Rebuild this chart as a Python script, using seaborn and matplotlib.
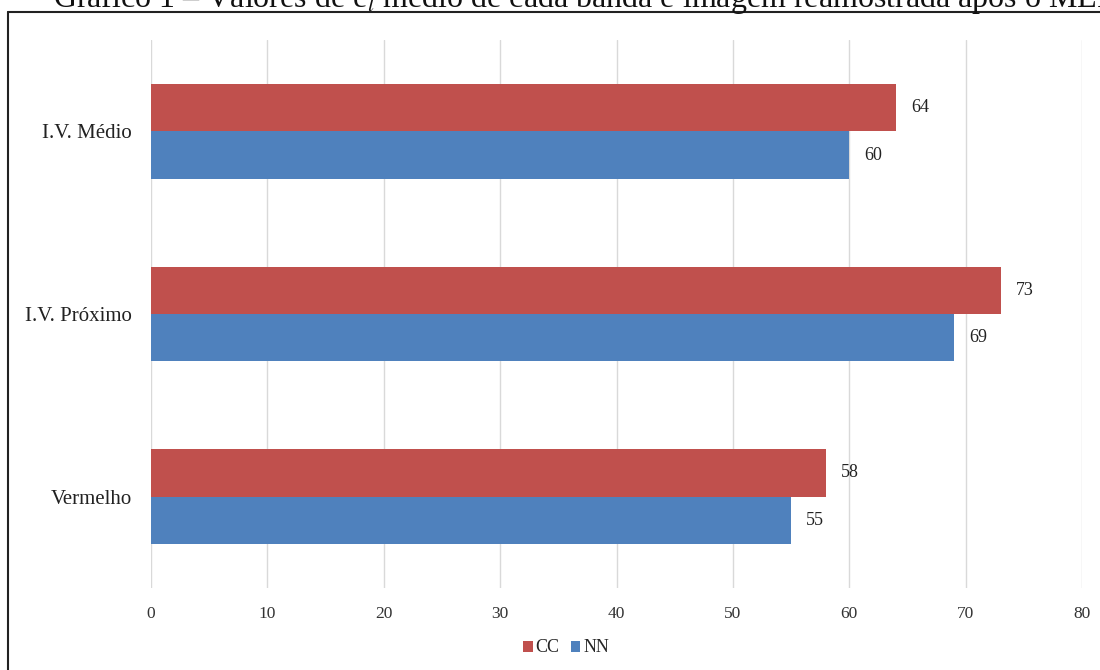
import matplotlib
matplotlib.use("Agg")
import matplotlib.pyplot as plt
from matplotlib.lines import Line2D
from matplotlib.patches import Patch
import seaborn as sns
import pandas as pd

categories = ["I.V. Médio", "I.V. Próximo", "Vermelho"]
series_names = ["CC", "NN"]
cc_values = [64, 73, 58]
nn_values = [60, 69, 55]
x_ticks = [0, 10, 20, 30, 40, 50, 60, 70, 80]
title_text = "Gráfico 1 – Valores de e$_l$ médio de cada banda e imagem reamostrada após o MEI"

colors = {"CC": "#C0504D", "NN": "#4F81BD"}

df = pd.DataFrame({
    "categoria": categories * 2,
    "serie": [series_names[0]] * len(categories) + [series_names[1]] * len(categories),
    "valor": cc_values + nn_values,
})

sns.set_theme(style="white")
plt.rcParams["font.family"] = ["Liberation Serif", "DejaVu Serif"]
plt.rcParams["mathtext.fontset"] = "stix"

W, H = 1100, 670
fig = plt.figure(figsize=(11, 6.7), dpi=100)
ax = fig.add_axes([151 / W, 1 - 588 / H, (1082 - 151) / W, (588 - 40) / H])

sns.barplot(data=df, y="categoria", x="valor", hue="serie", order=categories,
            hue_order=series_names, palette=colors, orient="h", width=0.52,
            gap=0, ax=ax, legend=False, saturation=1, errorbar=None, linewidth=0)

for cont in ax.containers:
    ax.bar_label(cont, padding=11, fontsize=13, color="#222222")

ax.set_xlim(0, 80)
ax.set_xticks(x_ticks)
ax.set_xlabel("")
ax.set_ylabel("")
ax.grid(axis="x", color="#D9D9D9", linewidth=1)
ax.grid(axis="y", visible=False)
ax.set_axisbelow(True)
for s in ax.spines.values():
    s.set_visible(False)
ax.tick_params(axis="x", length=0, pad=13, labelsize=12.5, labelcolor="#333333")
ax.tick_params(axis="y", length=0, pad=13.5, labelsize=15, labelcolor="#222222")

# legend
handles = [Patch(facecolor=colors[n], edgecolor="none", label=n) for n in series_names]
fig.legend(handles=handles, loc="center", bbox_to_anchor=(566 / W, 1 - 648 / H),
           ncol=2, frameon=False, fontsize=13, handlelength=0.55, handleheight=0.55,
           handletextpad=0.15, columnspacing=0.6)

# outer frame (partially cropped)
fig.add_artist(Line2D([7.5 / W, 7.5 / W], [0, 1 - 12 / H], transform=fig.transFigure,
                      color="#222222", linewidth=1.5))
fig.add_artist(Line2D([7.5 / W, 1], [1 - 12 / H, 1 - 12 / H], transform=fig.transFigure,
                      color="#222222", linewidth=1.5))

# clipped caption at the top
fig.text(53 / W, 1 - 6.5 / H, title_text, ha="left", va="baseline", fontsize=23,
         color="#111111")

fig.savefig("out.png", dpi=100)
